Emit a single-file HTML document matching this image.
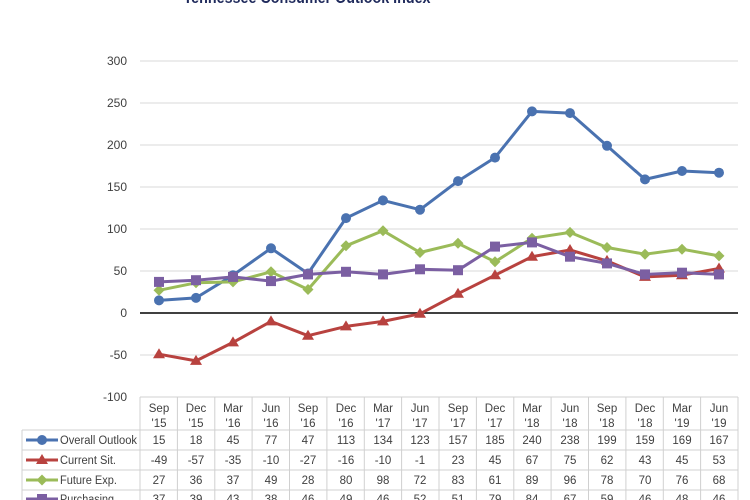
<!DOCTYPE html>
<html><head><meta charset="utf-8"><style>
body{margin:0;background:#fff;}
svg{display:block;font-family:"Liberation Sans",sans-serif;}
</style></head><body>
<svg width="750" height="500" viewBox="0 0 750 500" xmlns="http://www.w3.org/2000/svg">
<defs>
<marker id="mc" markerUnits="userSpaceOnUse" markerWidth="12" markerHeight="12" refX="6" refY="6"><circle cx="6" cy="6" r="5" fill="#4a72b0"/></marker>
<marker id="mt" markerUnits="userSpaceOnUse" markerWidth="14" markerHeight="14" refX="7" refY="7"><polygon points="7,1 13,11 1,11" fill="#b8423f"/></marker>
<marker id="md" markerUnits="userSpaceOnUse" markerWidth="12" markerHeight="12" refX="6" refY="6"><polygon points="6,0.5 11.5,6 6,11.5 0.5,6" fill="#9bbb59"/></marker>
<marker id="ms" markerUnits="userSpaceOnUse" markerWidth="12" markerHeight="12" refX="6" refY="6"><rect x="1" y="1" width="10" height="10" fill="#7b5fa2"/></marker>
</defs>
<text x="307" y="3" text-anchor="middle" font-size="17" font-weight="bold" fill="#1f2a5c" textLength="247" lengthAdjust="spacingAndGlyphs">Tennessee Consumer Outlook Index</text>
<g stroke="#d9d9d9" stroke-width="1">
<line x1="140" x2="738" y1="61" y2="61"/><line x1="140" x2="738" y1="103" y2="103"/>
<line x1="140" x2="738" y1="145" y2="145"/><line x1="140" x2="738" y1="187" y2="187"/>
<line x1="140" x2="738" y1="229" y2="229"/><line x1="140" x2="738" y1="271" y2="271"/>
<line x1="140" x2="738" y1="355" y2="355"/>
</g>
<line x1="140" x2="738" y1="313" y2="313" stroke="#000" stroke-width="1.5"/>
<g font-size="12" fill="#404040" text-anchor="end">
<text x="127" y="65">300</text><text x="127" y="107">250</text><text x="127" y="149">200</text>
<text x="127" y="191">150</text><text x="127" y="233">100</text><text x="127" y="275">50</text>
<text x="127" y="317">0</text><text x="127" y="359">-50</text><text x="127" y="401">-100</text>
</g>
<g fill="none" stroke-width="3" stroke-linejoin="round">
<polyline stroke="#4a72b0" marker-start="url(#mc)" marker-mid="url(#mc)" marker-end="url(#mc)" points="159,300.4 196,297.9 233,275.2 271,248.3 308,273.5 346,218.1 383,200.4 420,209.7 458,181.1 495,157.6 532,111.4 570,113.1 607,145.8 645,179.4 682,171 719,172.7"/>
<polyline stroke="#b8423f" marker-start="url(#mt)" marker-mid="url(#mt)" marker-end="url(#mt)" points="159,354.2 196,360.9 233,342.4 271,321.4 308,335.7 346,326.4 383,321.4 420,313.8 458,293.7 495,275.2 532,256.7 570,250 607,260.9 645,276.9 682,275.2 719,268.5"/>
<polyline stroke="#9bbb59" marker-start="url(#md)" marker-mid="url(#md)" marker-end="url(#md)" points="159,290.3 196,282.8 233,281.9 271,271.8 308,289.5 346,245.8 383,230.7 420,252.5 458,243.3 495,261.8 532,238.2 570,232.4 607,247.5 645,254.2 682,249.2 719,255.9"/>
<polyline stroke="#7b5fa2" marker-start="url(#ms)" marker-mid="url(#ms)" marker-end="url(#ms)" points="159,281.9 196,280.2 233,276.9 271,281.1 308,274.4 346,271.8 383,274.4 420,269.3 458,270.2 495,246.6 532,242.4 570,256.7 607,263.4 645,274.4 682,272.7 719,274.4"/>
</g>
<g stroke="#d0d0d0" stroke-width="1">
<line x1="140" x2="738" y1="397" y2="397"/>
<line x1="22" x2="738" y1="430" y2="430"/><line x1="22" x2="738" y1="450" y2="450"/>
<line x1="22" x2="738" y1="470" y2="470"/><line x1="22" x2="738" y1="490" y2="490"/>
<line x1="22" x2="22" y1="430" y2="500"/>
<line x1="140" x2="140" y1="397" y2="500"/><line x1="177.4" x2="177.4" y1="397" y2="500"/>
<line x1="214.8" x2="214.8" y1="397" y2="500"/><line x1="252.1" x2="252.1" y1="397" y2="500"/>
<line x1="289.5" x2="289.5" y1="397" y2="500"/><line x1="326.9" x2="326.9" y1="397" y2="500"/>
<line x1="364.3" x2="364.3" y1="397" y2="500"/><line x1="401.6" x2="401.6" y1="397" y2="500"/>
<line x1="439" x2="439" y1="397" y2="500"/><line x1="476.4" x2="476.4" y1="397" y2="500"/>
<line x1="513.8" x2="513.8" y1="397" y2="500"/><line x1="551.1" x2="551.1" y1="397" y2="500"/>
<line x1="588.5" x2="588.5" y1="397" y2="500"/><line x1="625.9" x2="625.9" y1="397" y2="500"/>
<line x1="663.3" x2="663.3" y1="397" y2="500"/><line x1="700.6" x2="700.6" y1="397" y2="500"/>
<line x1="738" x2="738" y1="397" y2="500"/>
</g>
<g font-size="11.5" fill="#404040" text-anchor="middle">
<text x="159" y="412">Sep</text><text x="196" y="412">Dec</text><text x="233" y="412">Mar</text><text x="271" y="412">Jun</text><text x="308" y="412">Sep</text><text x="346" y="412">Dec</text><text x="383" y="412">Mar</text><text x="420" y="412">Jun</text><text x="458" y="412">Sep</text><text x="495" y="412">Dec</text><text x="532" y="412">Mar</text><text x="570" y="412">Jun</text><text x="607" y="412">Sep</text><text x="645" y="412">Dec</text><text x="682" y="412">Mar</text><text x="719" y="412">Jun</text>
<text x="159" y="427">'15</text><text x="196" y="427">'15</text><text x="233" y="427">'16</text><text x="271" y="427">'16</text><text x="308" y="427">'16</text><text x="346" y="427">'16</text><text x="383" y="427">'17</text><text x="420" y="427">'17</text><text x="458" y="427">'17</text><text x="495" y="427">'17</text><text x="532" y="427">'18</text><text x="570" y="427">'18</text><text x="607" y="427">'18</text><text x="645" y="427">'18</text><text x="682" y="427">'19</text><text x="719" y="427">'19</text>
<text x="159" y="444">15</text><text x="196" y="444">18</text><text x="233" y="444">45</text><text x="271" y="444">77</text><text x="308" y="444">47</text><text x="346" y="444">113</text><text x="383" y="444">134</text><text x="420" y="444">123</text><text x="458" y="444">157</text><text x="495" y="444">185</text><text x="532" y="444">240</text><text x="570" y="444">238</text><text x="607" y="444">199</text><text x="645" y="444">159</text><text x="682" y="444">169</text><text x="719" y="444">167</text>
<text x="159" y="464">-49</text><text x="196" y="464">-57</text><text x="233" y="464">-35</text><text x="271" y="464">-10</text><text x="308" y="464">-27</text><text x="346" y="464">-16</text><text x="383" y="464">-10</text><text x="420" y="464">-1</text><text x="458" y="464">23</text><text x="495" y="464">45</text><text x="532" y="464">67</text><text x="570" y="464">75</text><text x="607" y="464">62</text><text x="645" y="464">43</text><text x="682" y="464">45</text><text x="719" y="464">53</text>
<text x="159" y="484">27</text><text x="196" y="484">36</text><text x="233" y="484">37</text><text x="271" y="484">49</text><text x="308" y="484">28</text><text x="346" y="484">80</text><text x="383" y="484">98</text><text x="420" y="484">72</text><text x="458" y="484">83</text><text x="495" y="484">61</text><text x="532" y="484">89</text><text x="570" y="484">96</text><text x="607" y="484">78</text><text x="645" y="484">70</text><text x="682" y="484">76</text><text x="719" y="484">68</text>
<text x="159" y="503">37</text><text x="196" y="503">39</text><text x="233" y="503">43</text><text x="271" y="503">38</text><text x="308" y="503">46</text><text x="346" y="503">49</text><text x="383" y="503">46</text><text x="420" y="503">52</text><text x="458" y="503">51</text><text x="495" y="503">79</text><text x="532" y="503">84</text><text x="570" y="503">67</text><text x="607" y="503">59</text><text x="645" y="503">46</text><text x="682" y="503">48</text><text x="719" y="503">46</text>
</g>
<g stroke-width="3">
<line x1="26" x2="58" y1="440" y2="440" stroke="#4a72b0"/>
<line x1="26" x2="58" y1="460" y2="460" stroke="#b8423f"/>
<line x1="26" x2="58" y1="480" y2="480" stroke="#9bbb59"/>
<line x1="26" x2="58" y1="499" y2="499" stroke="#7b5fa2"/>
</g>
<circle cx="42" cy="440" r="5" fill="#4a72b0"/>
<polygon points="42,454 48,464 36,464" fill="#b8423f"/>
<polygon points="42,474.5 47.5,480 42,485.5 36.5,480" fill="#9bbb59"/>
<rect x="37" y="494" width="10" height="10" fill="#7b5fa2"/>
<g font-size="11.5" fill="#404040">
<text x="60" y="444" textLength="77" lengthAdjust="spacingAndGlyphs">Overall Outlook</text>
<text x="60" y="464" textLength="56" lengthAdjust="spacingAndGlyphs">Current Sit.</text>
<text x="60" y="484" textLength="57" lengthAdjust="spacingAndGlyphs">Future Exp.</text>
<text x="60" y="503" textLength="54" lengthAdjust="spacingAndGlyphs">Purchasing</text>
</g>
</svg>
</body></html>
